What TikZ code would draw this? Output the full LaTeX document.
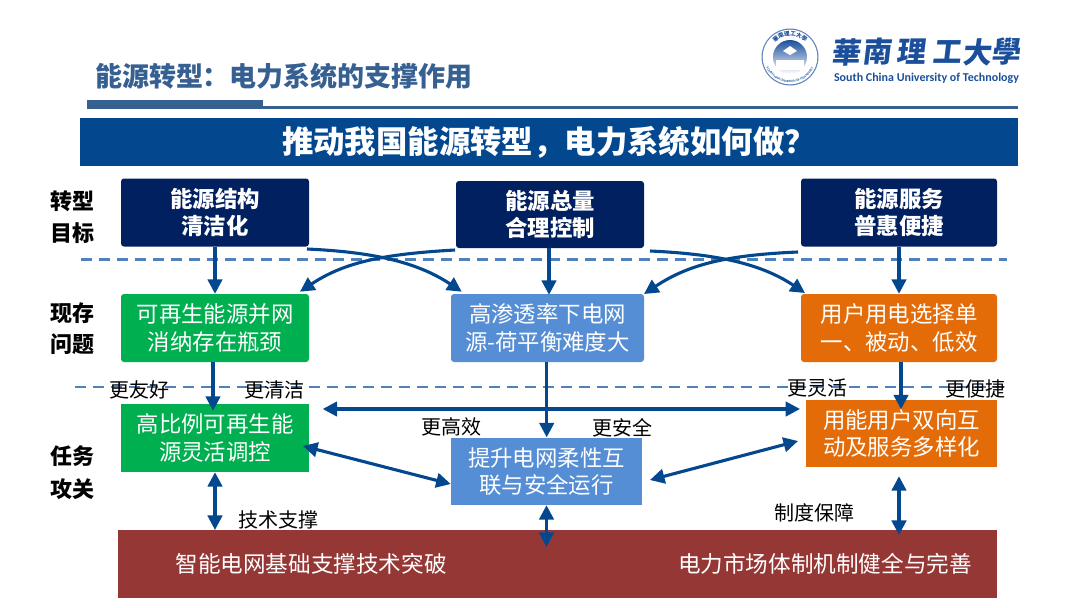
\documentclass[tikz,border=0pt]{standalone}
\usepackage{fontspec}
\setmainfont{Noto Sans CJK SC}
\newfontfamily\logofont{Carlito}
\usepackage{xcolor}
\usetikzlibrary{positioning,arrows.meta,calc,decorations.text}
\definecolor{navybox}{HTML}{002060}
\definecolor{greenbox}{HTML}{00B050}
\definecolor{bluebox}{HTML}{558ED5}
\definecolor{orangebox}{HTML}{E36C09}
\definecolor{redbox}{HTML}{953735}
\definecolor{flowblue}{HTML}{03488F}
\definecolor{titleblue}{HTML}{376092}
\definecolor{dashblue}{HTML}{4F81BD}
\definecolor{logoblue}{HTML}{1B4F9C}
\tikzset{
  goalbox/.style  = {rectangle, rounded corners=3pt, fill=#1, text=white, inner sep=0pt, align=center,
                     font=\fontsize{22.4}{27.5}\selectfont\bfseries},
  issuebox/.style = {rectangle, rounded corners=3pt, fill=#1, text=white, inner sep=0pt, align=center,
                     font=\fontsize{22.4}{27.5}\selectfont},
  taskbox/.style  = {rectangle, fill=#1, text=white, inner sep=0pt, align=center,
                     font=\fontsize{22.4}{27.5}\selectfont},
  flow/.style     = {-{Triangle[length=14.5pt,width=14.5pt]}, line width=3.1pt, draw=flowblue},
  dflow/.style    = {{Triangle[length=14.5pt,width=14.5pt]}-{Triangle[length=14.5pt,width=14.5pt]}, line width=3.1pt, draw=flowblue},
  sep/.style      = {draw=dashblue, line width=2.4pt, dash pattern=on 10.5pt off 7.5pt},
  tag/.style      = {inner sep=0pt, text=black, font=\fontsize{20}{24}\selectfont},
  rowlab/.style   = {inner sep=0pt, text=black, font=\fontsize{22}{26}\selectfont\bfseries},
}

\begin{document}
\begin{tikzpicture}[x=1pt, y=-1pt]
  \useasboundingbox (0,0) rectangle (1080,608);
  \fill[white] (0,0) rectangle (1080,608);

  % header
  \node[inner sep=0pt, text=titleblue, font=\fontsize{27}{30}\selectfont\bfseries] (title) at (284,76) {能源转型：电力系统的支撑作用};
  \fill[titleblue] (87,100) rectangle (263,108.7);
  \fill[titleblue] (263,106) rectangle (1018,108.7);
  \node[rectangle, fill=flowblue, text=white, inner sep=0pt, minimum width=938pt, minimum height=47.5pt,
        font=\fontsize{31.4}{34}\selectfont\bfseries] (banner) at (549,142) {推动我国能源转型，电力系统如何做？};

  % logo
  \fill[logoblue!70!white] (790,57) circle (28.5);
  \fill[white] (790,57) circle (27.3);
  \path[decorate, decoration={text along path, text align=center,
        text={|\fontsize{5.6}{6}\selectfont\bfseries\color{logoblue}|華南理工大學}}]
    (769,57) arc[start angle=180, end angle=360, radius=21];
  \path[decorate, decoration={text along path, text align=center,
        text={|\logofont\fontsize{3.2}{4}\selectfont\bfseries\color{logoblue}|SOUTH CHINA UNIVERSITY OF TECHNOLOGY}}]
    (764.9,63.5) arc[start angle=165, end angle=15, radius=26];
  \shade[top color=logoblue, bottom color=white] (790,57) circle (17);
  \fill[white] (776,60) rectangle (804,70);
  \fill[white] (790,46) -- (797,51) -- (790,55) -- (783,51) -- cycle;
  \foreach \n/\x/\ch in {h1/847/華, h2/878/南, h3/912/理, h4/948/工, h5/978/大, h6/1007/學} {
    \node[inner sep=0pt, text=logoblue, font=\fontsize{29}{32}\selectfont\bfseries, xslant=0.12] (\n) at (\x,52) {\ch};
  }
  \node[inner sep=0pt, text=logoblue, font=\logofont\fontsize{12}{13}\selectfont\bfseries] (sctu) at (926.5,78.5) {South China University of Technology};

  % separators
  \draw[sep] (81,259.3) -- (1007,259.3);
  \draw[sep] (75,386.7) -- (1005,386.7);

  % row labels
  \foreach \n/\y/\t in {r1/201/转型, r2/233/目标, r3/313/现存, r4/344/问题, r5/456/任务, r6/489/攻关} {
    \node[rowlab] (\n) at (72,\y) {\t};
  }

  % goals
  \node[goalbox=navybox, minimum width=188pt, minimum height=68pt] (goalA) at (215,212.5) {能源结构\\清洁化};
  \node[goalbox=navybox, minimum width=188pt, minimum height=67pt] (goalB) at (550,214.5) {能源总量\\合理控制};
  \node[goalbox=navybox, minimum width=196pt, minimum height=68pt] (goalC) at (899,212.5) {能源服务\\普惠便捷};

  % issues
  \node[issuebox=greenbox, minimum width=188pt, minimum height=68pt] (issueA) at (215,328) {可再生能源并网\\消纳存在瓶颈};
  \node[issuebox=bluebox, minimum width=193pt, minimum height=68pt] (issueB) at (547.5,328) {高渗透率下电网\\源-荷平衡难度大};
  \node[issuebox=orangebox, minimum width=196pt, minimum height=68pt] (issueC) at (899,328) {用户用电选择单\\一、被动、低效};

  % tasks
  \node[taskbox=greenbox, minimum width=188pt, minimum height=68pt] (taskA) at (215,438) {高比例可再生能\\源灵活调控};
  \node[taskbox=bluebox, minimum width=191pt, minimum height=67pt] (taskB) at (546.5,471.5) {提升电网柔性互\\联与安全运行};
  \node[taskbox=orangebox, minimum width=191pt, minimum height=67pt] (taskC) at (901.5,433.5) {用能用户双向互\\动及服务多样化};

  % base
  \node[rectangle, fill=redbox, minimum width=879pt, minimum height=67.7pt] (base) at (557.5,564) {};
  \node[inner sep=0pt, text=white, font=\fontsize{22.6}{26}\selectfont] (baseL) at (311,564) {智能电网基础支撑技术突破};
  \node[inner sep=0pt, text=white, font=\fontsize{22.6}{26}\selectfont] (baseR) at (825,564) {电力市场体制机制健全与完善};

  % tags
  \foreach \n/\x/\y/\t in {t1/139/390/更友好, t2/274.5/390/更清洁, t3/451/427/更高效, t4/622/428/更安全,
                           t5/817/388/更灵活, t6/975/389/更便捷, t7/278/520/技术支撑, t8/814/513/制度保障} {
    \node[tag] (\n) at (\x,\y) {\t};
  }

  % free ends
  \coordinate (crossAs) at (307,249);
  \coordinate (crossAe) at (461.7,291.7);
  \coordinate (crossBs) at (455,250);
  \coordinate (crossBe) at (300,291.7);
  \coordinate (crossCs) at (650,251);
  \coordinate (crossCe) at (805,293);
  \coordinate (crossDs) at (798,252);
  \coordinate (crossDe) at (644,294);
  \coordinate (wideL) at (322.7,409);
  \coordinate (wideR) at (800,409);
  \coordinate (diagAs) at (303,446);
  \coordinate (diagAe) at (450.7,484);
  \coordinate (diagBs) at (650,480);
  \coordinate (diagBe) at (798,441);

  % goals to issues
  \draw[flow] (goalA.south) -- (issueA.north);
  \draw[flow] ($(goalB.south)+(-1,0)$) -- ($(issueB.north)+(1.5,1)$);
  \draw[flow] (goalC.south) -- (issueC.north);
  \draw[flow] (crossAs) .. controls +(65,3) and +(-45,-30) .. (crossAe);
  \draw[flow] (crossBs) .. controls +(-70,4) and +(45,-30) .. (crossBe);
  \draw[flow] (crossCs) .. controls +(65,3) and +(-45,-30) .. (crossCe);
  \draw[flow] (crossDs) .. controls +(-70,3) and +(45,-30) .. (crossDe);

  % issues to tasks
  \draw[flow] ($(issueA.south)+(-2,0)$) -- ($(taskA.north)+(-2,7)$);
  \draw[flow] ($(issueB.south)+(-0.8,0)$) -- ($(taskB.north)+(0.2,-0.5)$);
  \draw[flow] ($(issueC.south)+(2,0)$) -- ($(taskC.north)+(-0.5,9.5)$);

  % between tasks
  \draw[dflow] (wideL) -- (wideR);
  \draw[dflow] (diagAs) -- (diagAe);
  \draw[dflow] (diagBs) -- (diagBe);

  % tasks to base
  \draw[dflow] (taskA.south) -- (taskA.south |- base.north);
  \draw[dflow] (taskB.south) -- ($(taskB.south |- base.north)+(0,17)$);
  \draw[dflow] ($(taskC.south)+(-2.5,9)$) -- ($(taskC.south |- base.north)+(-2.5,5)$);
\end{tikzpicture}
\end{document}
